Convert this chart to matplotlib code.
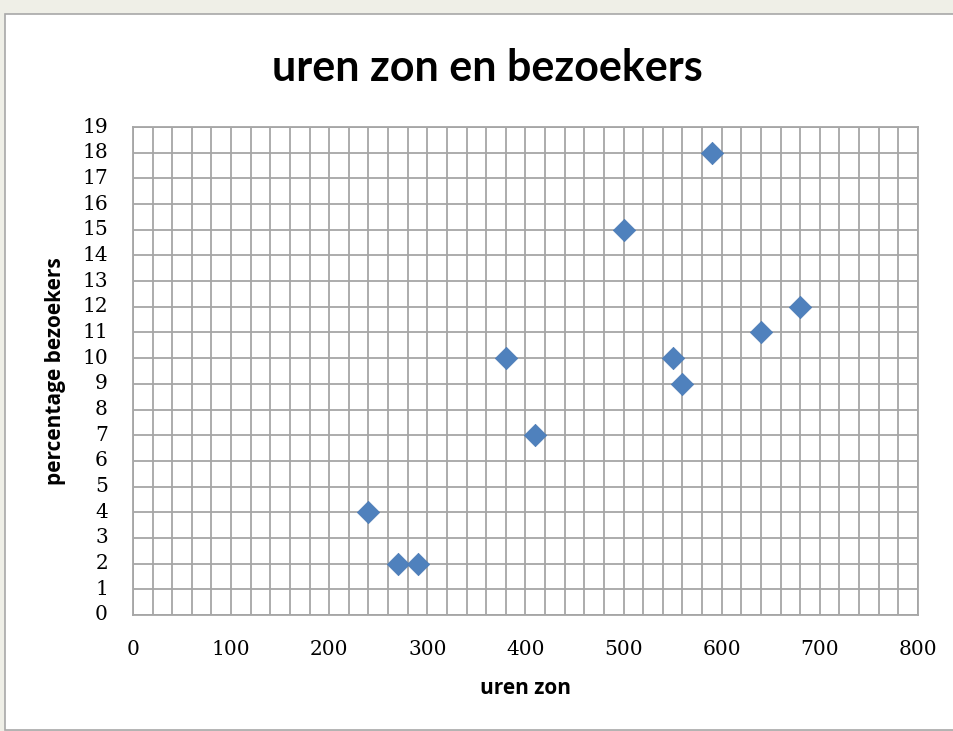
import matplotlib.pyplot as plt
import numpy as np
from matplotlib.patches import Rectangle

# ----------------------------
# Data
# ----------------------------
uren_zon = [240, 270, 290, 380, 410, 500, 550, 560, 590, 640, 680]
bezoekers = [4, 2, 2, 10, 7, 15, 10, 9, 18, 11, 12]

x_ticks = [0, 100, 200, 300, 400, 500, 600, 700, 800]
y_ticks = list(range(0, 20))

W, H = 954, 731
fig = plt.figure(figsize=(W / 100, H / 100), dpi=100)
fig.patch.set_facecolor("#efefe7")

# white chart area with grey frame
fig.patches.append(Rectangle((5 / W, 1 / H), 1.0, (H - 15) / H,
                             transform=fig.transFigure, facecolor="white",
                             edgecolor="#a8a8a8", linewidth=1.2, zorder=-5))

left, right, top, bottom = 133, 918, 127, 615
ax = fig.add_axes([left / W, 1 - bottom / H, (right - left) / W, (bottom - top) / H])
ax.set_facecolor("white")

ax.scatter(uren_zon, bezoekers, marker="D", s=130, color="#4f81bd",
           edgecolors="#4a7ab4", linewidths=0.5, zorder=3, clip_on=False)

ax.set_xlim(0, 800)
ax.set_ylim(0, 19)
ax.set_xticks(x_ticks)
ax.set_yticks(y_ticks)
ax.set_xticks(np.arange(0, 801, 20), minor=True)
ax.grid(True, which="major", color="#a6a6a6", linewidth=1.3)
ax.grid(True, which="minor", axis="x", color="#a6a6a6", linewidth=1.3)
ax.set_axisbelow(True)
ax.tick_params(which="both", length=0)
ax.tick_params(axis="x", pad=18)
ax.tick_params(axis="y", pad=18)
for sp in ax.spines.values():
    sp.set_color("#a6a6a6")
    sp.set_linewidth(1.3)

tick_font = dict(family="DejaVu Serif", size=14.5, color="black")
ax.set_xticklabels([str(v) for v in x_ticks], **tick_font)
ax.set_yticklabels([str(v) for v in y_ticks], **tick_font)
for lbl in ax.get_yticklabels():
    lbl.set_va("center")

ax.set_xlabel("uren zon", family="Open Sans", weight="bold", size=15, labelpad=14)
ax.set_ylabel("percentage bezoekers", family="Open Sans", weight="bold", size=15, labelpad=12)

fig.text(487 / W, 1 - 68 / H, "uren zon en bezoekers", ha="center", va="center",
         family="Lato", weight="bold", size=31)

fig.savefig("out.png", dpi=100, facecolor=fig.get_facecolor())
